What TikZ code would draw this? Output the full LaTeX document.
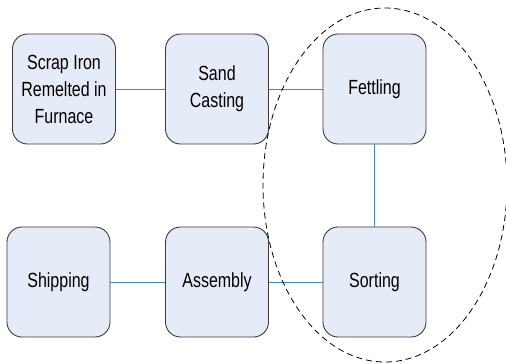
\documentclass[tikz,border=0pt]{standalone}
\usepackage{fontspec}
\setmainfont[FakeStretch=0.78]{Liberation Sans}
\definecolor{boxfill}{HTML}{E6ECF7}
\definecolor{boxedge}{HTML}{3A3A3A}
\definecolor{linkblue}{HTML}{4F81BD}
\begin{document}
\begin{tikzpicture}[x=1bp,y=-1bp,
  stage/.style={draw=boxedge,line width=0.9bp,fill=boxfill,rounded corners=15bp,
    minimum width=103bp,minimum height=110bp,inner sep=0pt,align=center,
    font=\fontsize{20.5bp}{27bp}\selectfont},
  link/.style={draw=linkblue,line width=0.8bp}]
\useasboundingbox (0,0) rectangle (506,363);
\clip (0,0) rectangle (506,363);
% process stages
\node[stage] (scrap) at (64,89) {Scrap Iron\\Remelted in\\Furnace};
\node[stage] (sand) at (217,89) {Sand\\Casting};
\node[stage] (fett) at (374.5,89) {Fettling};
\node[stage] (ship) at (58.5,282) {Shipping};
\node[stage] (asm) at (217,282) {Assembly};
\node[stage] (sort) at (374.5,282) {Sorting};
% connections
\draw[link] (scrap) -- (sand);
\draw[link] (sand) -- (fett);
\draw[link] (fett) -- (sort);
\draw[link] (ship) -- (asm);
\draw[link] (asm) -- (sort);
% finishing group outline
\draw[dashed,line width=0.8bp,dash pattern=on 6bp off 4bp] (385,185) ellipse [x radius=122, y radius=177];
\end{tikzpicture}
\end{document}
